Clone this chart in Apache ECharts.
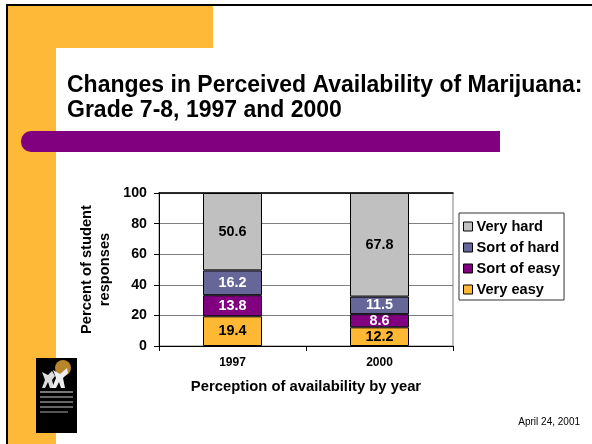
<!DOCTYPE html>
<html>
<head>
<meta charset="utf-8">
<script src="https://cdn.jsdelivr.net/npm/echarts@6/dist/echarts.min.js"></script>
<style>
html,body{margin:0;padding:0;background:#fff;}
#chart{width:592px;height:444px;}
</style>
</head>
<body>
<div id="chart"></div>
<script>
const categories = ['1997', '2000'];
const seriesNames = ['Very easy', 'Sort of easy', 'Sort of hard', 'Very hard'];
const veryEasy = [19.4, 12.2];
const sortOfEasy = [13.8, 8.6];
const sortOfHard = [16.2, 11.5];
const veryHard = [50.6, 67.8];
const yTicks = [0, 20, 40, 60, 80, 100];
const titleLines = ['Changes in Perceived Availability of Marijuana:', 'Grade 7-8, 1997 and 2000'];
const dateText = 'April 24, 2001';

const FONT = "Liberation Sans";
const colors = ['#FFB833', '#800080', '#666699', '#C0C0C0'];
const labelColors = ['#000', '#fff', '#fff', '#000'];
const values = [veryEasy, sortOfEasy, sortOfHard, veryHard];

const chart = echarts.init(document.getElementById('chart'), null, {renderer: 'canvas'});

const series = seriesNames.map((name, i) => ({
  name: name,
  type: 'bar',
  stack: 'total',
  data: values[i],
  barWidth: 59,
  itemStyle: {color: colors[i], borderColor: '#000', borderWidth: 1},
  label: {
    show: true,
    position: 'inside',
    color: labelColors[i],
    fontFamily: FONT,
    fontWeight: 'bold',
    fontSize: 14.4,
    formatter: p => p.value.toFixed(1)
  }
}));

function txt(text, x, y, size, weight, align) {
  return {type: 'text', x: x, y: y, style: {text: text, fontFamily: FONT, fontSize: size, fontWeight: weight, fill: '#000', align: align, verticalAlign: 'middle'}};
}

const graphic = [
  {type: 'rect', z: -10, shape: {x: 8, y: 5, width: 205, height: 43}, style: {fill: '#FDB937'}},
  {type: 'rect', z: -10, shape: {x: 8, y: 5, width: 48, height: 440}, style: {fill: '#FDB937'}},
  {type: 'rect', z: -9, shape: {x: 56, y: 48, width: 560, height: 420, r: [15, 0, 0, 0]}, style: {fill: '#fff'}},
  {type: 'rect', z: -8, shape: {x: 21, y: 131, width: 479, height: 21, r: [10, 0, 0, 10]}, style: {fill: '#800080'}},
  {type: 'line', z: -7, shape: {x1: 7, y1: 4, x2: 7, y2: 444}, style: {stroke: '#000', lineWidth: 2}},
  {type: 'line', z: -7, shape: {x1: 6, y1: 5, x2: 592, y2: 5}, style: {stroke: '#000', lineWidth: 2}},
  txt(titleLines[0], 67, 86, 23, 'bold', 'left'),
  txt(titleLines[1], 67, 111, 23, 'bold', 'left'),
  txt(dateText, 580, 422, 10, 'normal', 'right'),
  // logo
  {type: 'rect', shape: {x: 36, y: 358, width: 41, height: 75}, style: {fill: '#000'}},
  {type: 'circle', shape: {cx: 63, cy: 368, r: 8}, style: {fill: '#B8862A'}},
  {type: 'polygon', shape: {points: [[42,372],[48,375],[52,371],[55,376],[52,380],[54,388],[50,388],[48,382],[45,388],[42,388],[45,380]]}, style: {fill: '#ddd'}},
  {type: 'polygon', shape: {points: [[53,370],[60,374],[67,368],[68,373],[63,378],[65,388],[61,388],[59,382],[56,388],[52,388],[56,378]]}, style: {fill: '#eee'}},
  {type: 'rect', shape: {x: 40, y: 391, width: 33, height: 2}, style: {fill: '#777'}},
  {type: 'rect', shape: {x: 40, y: 396, width: 33, height: 2}, style: {fill: '#666'}},
  {type: 'rect', shape: {x: 40, y: 401, width: 33, height: 2}, style: {fill: '#666'}},
  {type: 'rect', shape: {x: 40, y: 406, width: 33, height: 2}, style: {fill: '#666'}},
  {type: 'rect', shape: {x: 40, y: 411, width: 28, height: 2}, style: {fill: '#555'}}
];

const option = {
  backgroundColor: '#fff',
  animation: false,
  graphic: graphic,
  grid: {left: 159, right: 139, top: 193, bottom: 98, show: true, borderColor: '#808080', borderWidth: 1, backgroundColor: 'transparent'},
  legend: {
    data: seriesNames.slice().reverse(),
    orient: 'vertical',
    left: 459,
    top: 213,
    padding: [6, 4, 3, 4],
    itemGap: 6,
    itemWidth: 9,
    itemHeight: 9,
    icon: 'rect',
    borderColor: '#333',
    borderWidth: 1,
    backgroundColor: '#fff',
    itemStyle: {borderColor: '#000', borderWidth: 1},
    textStyle: {fontFamily: FONT, fontWeight: 'bold', fontSize: 14.6, lineHeight: 15, color: '#000', padding: [0, 0, 0, -1]}
  },
  xAxis: [{
    type: 'category',
    data: categories,
    position: 'bottom',
    axisLine: {lineStyle: {color: '#000', width: 1}},
    axisTick: {show: true, length: 5, lineStyle: {color: '#000'}},
    axisLabel: {fontFamily: FONT, fontWeight: 'bold', fontSize: 12, color: '#000', margin: 11},
    name: 'Perception of availability by year',
    nameLocation: 'middle',
    nameGap: 33,
    nameTextStyle: {fontFamily: FONT, fontWeight: 'bold', fontSize: 14.8, color: '#000'}
  }, {
    type: 'category',
    data: categories,
    position: 'top',
    axisLine: {lineStyle: {color: '#000', width: 1.5}},
    axisTick: {show: false},
    axisLabel: {show: false}
  }],
  yAxis: {
    type: 'value',
    min: yTicks[0],
    max: yTicks[yTicks.length - 1],
    interval: 20,
    axisLine: {show: true, lineStyle: {color: '#000'}},
    axisTick: {show: true, length: 5, lineStyle: {color: '#000'}},
    axisLabel: {fontFamily: FONT, fontWeight: 'bold', fontSize: 14.2, color: '#000', margin: 12},
    splitLine: {show: true, lineStyle: {color: '#808080', width: 1}},
    name: 'Percent of student\nresponses',
    nameLocation: 'middle',
    nameRotate: 90,
    nameGap: 45,
    nameTextStyle: {fontFamily: FONT, fontWeight: 'bold', fontSize: 14.7, color: '#000', lineHeight: 18, align: 'center'}
  },
  series: series
};
chart.setOption(option);
</script>
</body>
</html>
